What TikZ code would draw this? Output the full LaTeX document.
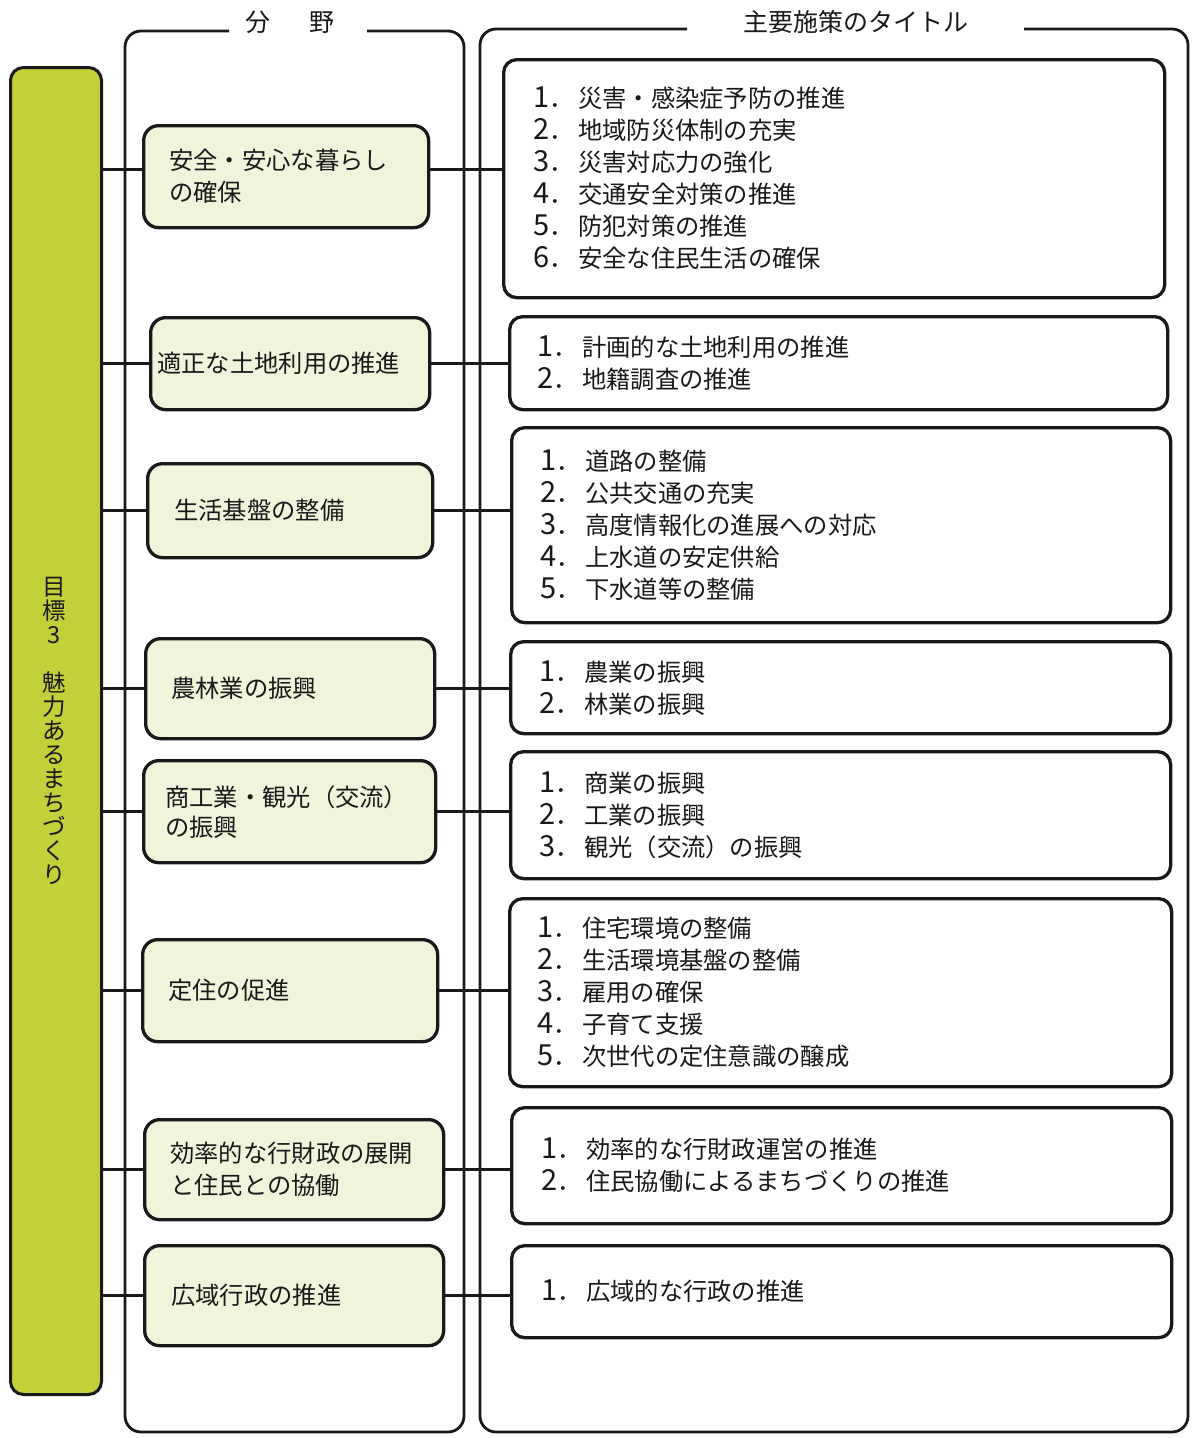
\documentclass[tikz,border=0pt]{standalone}
\usepackage{fontspec}
\setmainfont{Noto Sans CJK JP}
\definecolor{barfill}{RGB}{196,208,58}
\definecolor{catfill}{RGB}{240,244,218}
\definecolor{ink}{RGB}{25,25,25}
\newcommand\polline[2]{\makebox[45pt][l]{{\fontsize{29}{32}\selectfont #1}．}#2}
\begin{document}
\begin{tikzpicture}[x=1pt,y=-1pt,
  frame/.style={draw=ink,line width=2.8pt,rounded corners=16pt},
  bar/.style={draw=ink,line width=3pt,rounded corners=13pt,fill=barfill,inner sep=0,anchor=north west},
  catbox/.style={draw=ink,line width=3.3pt,rounded corners=15pt,fill=catfill,inner sep=0,anchor=north west},
  polbox/.style={draw=ink,line width=3.3pt,rounded corners=13pt,fill=white,inner sep=0,anchor=north west},
  link/.style={draw=ink,line width=3pt},
  label/.style={font=\fontsize{24.3}{32}\selectfont,align=left,inner sep=0,anchor=west,text=ink},
  head/.style={font=\fontsize{25}{28}\selectfont,inner sep=0,text=ink},
]
\useasboundingbox (0,0) rectangle (1192,1438);

% headings
\node[head] (t1) at (290,22) {分\hspace{39pt}野};
\node[head] (t2) at (856,22) {主要施策のタイトル};

% frames
\draw[frame] (229,31) -- (125,31) -- (125,1432) -- (464,1432) -- (464,31) -- (367,31);
\draw[frame] (687,29) -- (480,29) -- (480,1432) -- (1188,1432) -- (1188,29) -- (1024,29);

% green bar
\node[bar,minimum width=91pt,minimum height=1327pt] (g) at (9,66) {};
\node[font=\fontsize{23.5}{24}\selectfont,align=center,inner sep=0,text=ink] (goal) at (54,731)
  {目\\標\\3\\\mbox{}\\魅\\力\\あ\\る\\ま\\ち\\づ\\く\\り};

% category boxes
\node[catbox,minimum width=285pt,minimum height=102pt] (c1) at (142,124) {};
\node[catbox,minimum width=279pt,minimum height=92pt]  (c2) at (149,316) {};
\node[catbox,minimum width=285pt,minimum height=94pt]  (c3) at (146,462) {};
\node[catbox,minimum width=289pt,minimum height=100pt] (c4) at (144,637) {};
\node[catbox,minimum width=292pt,minimum height=102pt] (c5) at (142,759) {};
\node[catbox,minimum width=295pt,minimum height=102pt] (c6) at (141,938) {};
\node[catbox,minimum width=299pt,minimum height=100pt] (c7) at (143,1118) {};
\node[catbox,minimum width=299pt,minimum height=100pt] (c8) at (143,1244) {};

% policy boxes
\node[polbox,minimum width=661pt,minimum height=238pt] (p1) at (502,58) {};
\node[polbox,minimum width=658pt,minimum height=93pt]  (p2) at (508,315) {};
\node[polbox,minimum width=659pt,minimum height=195pt] (p3) at (510,426) {};
\node[polbox,minimum width=660pt,minimum height=92pt]  (p4) at (509,640) {};
\node[polbox,minimum width=660pt,minimum height=127pt] (p5) at (509,750) {};
\node[polbox,minimum width=662pt,minimum height=188pt] (p6) at (508,897) {};
\node[polbox,minimum width=660pt,minimum height=116pt] (p7) at (510,1106) {};
\node[polbox,minimum width=660pt,minimum height=92pt]  (p8) at (510,1244) {};

% connectors
\coordinate (k1) at (0,169);
\draw[link] (g.east |- k1) -- (c1.west |- k1);
\draw[link] (c1.east |- k1) -- (p1.west |- k1);
\foreach \i in {2,...,8}{
  \draw[link] (g.east |- c\i.west) -- (c\i.west);
  \draw[link] (c\i.east) -- (c\i.east -| p\i.west);
}

% category texts
\node[label] (c1t) at ([xshift=27pt]c1.west) {安全・安心な暮らし\\の確保};
\node[label] (c2t) at ([xshift=8pt]c2.west) {適正な土地利用の推進};
\node[label] (c3t) at ([xshift=28pt]c3.west) {生活基盤の整備};
\node[label] (c4t) at ([xshift=27pt]c4.west) {農林業の振興};
\node[label,font=\fontsize{24.3}{30}\selectfont] (c5t) at ([xshift=23pt]c5.west) {商工業・観光（交流）\\の振興};
\node[label] (c6t) at ([xshift=27pt]c6.west) {定住の促進};
\node[label] (c7t) at ([xshift=27pt]c7.west) {効率的な行財政の展開\\と住民との協働};
\node[label] (c8t) at ([xshift=28pt]c8.west) {広域行政の推進};

% policy texts
\node[label] (p1t) at ([xshift=31pt]p1.west) {\polline{1}{災害・感染症予防の推進}\\\polline{2}{地域防災体制の充実}\\\polline{3}{災害対応力の強化}\\\polline{4}{交通安全対策の推進}\\\polline{5}{防犯対策の推進}\\\polline{6}{安全な住民生活の確保}};
\node[label] (p2t) at ([xshift=29pt]p2.west) {\polline{1}{計画的な土地利用の推進}\\\polline{2}{地籍調査の推進}};
\node[label] (p3t) at ([xshift=30pt]p3.west) {\polline{1}{道路の整備}\\\polline{2}{公共交通の充実}\\\polline{3}{高度情報化の進展への対応}\\\polline{4}{上水道の安定供給}\\\polline{5}{下水道等の整備}};
\node[label] (p4t) at ([xshift=30pt]p4.west) {\polline{1}{農業の振興}\\\polline{2}{林業の振興}};
\node[label] (p5t) at ([xshift=30pt]p5.west) {\polline{1}{商業の振興}\\\polline{2}{工業の振興}\\\polline{3}{観光（交流）の振興}};
\node[label] (p6t) at ([xshift=29pt]p6.west) {\polline{1}{住宅環境の整備}\\\polline{2}{生活環境基盤の整備}\\\polline{3}{雇用の確保}\\\polline{4}{子育て支援}\\\polline{5}{次世代の定住意識の醸成}};
\node[label] (p7t) at ([xshift=31pt]p7.west) {\polline{1}{効率的な行財政運営の推進}\\\polline{2}{住民協働によるまちづくりの推進}};
\node[label] (p8t) at ([xshift=31pt]p8.west) {\polline{1}{広域的な行政の推進}};
\end{tikzpicture}
\end{document}
